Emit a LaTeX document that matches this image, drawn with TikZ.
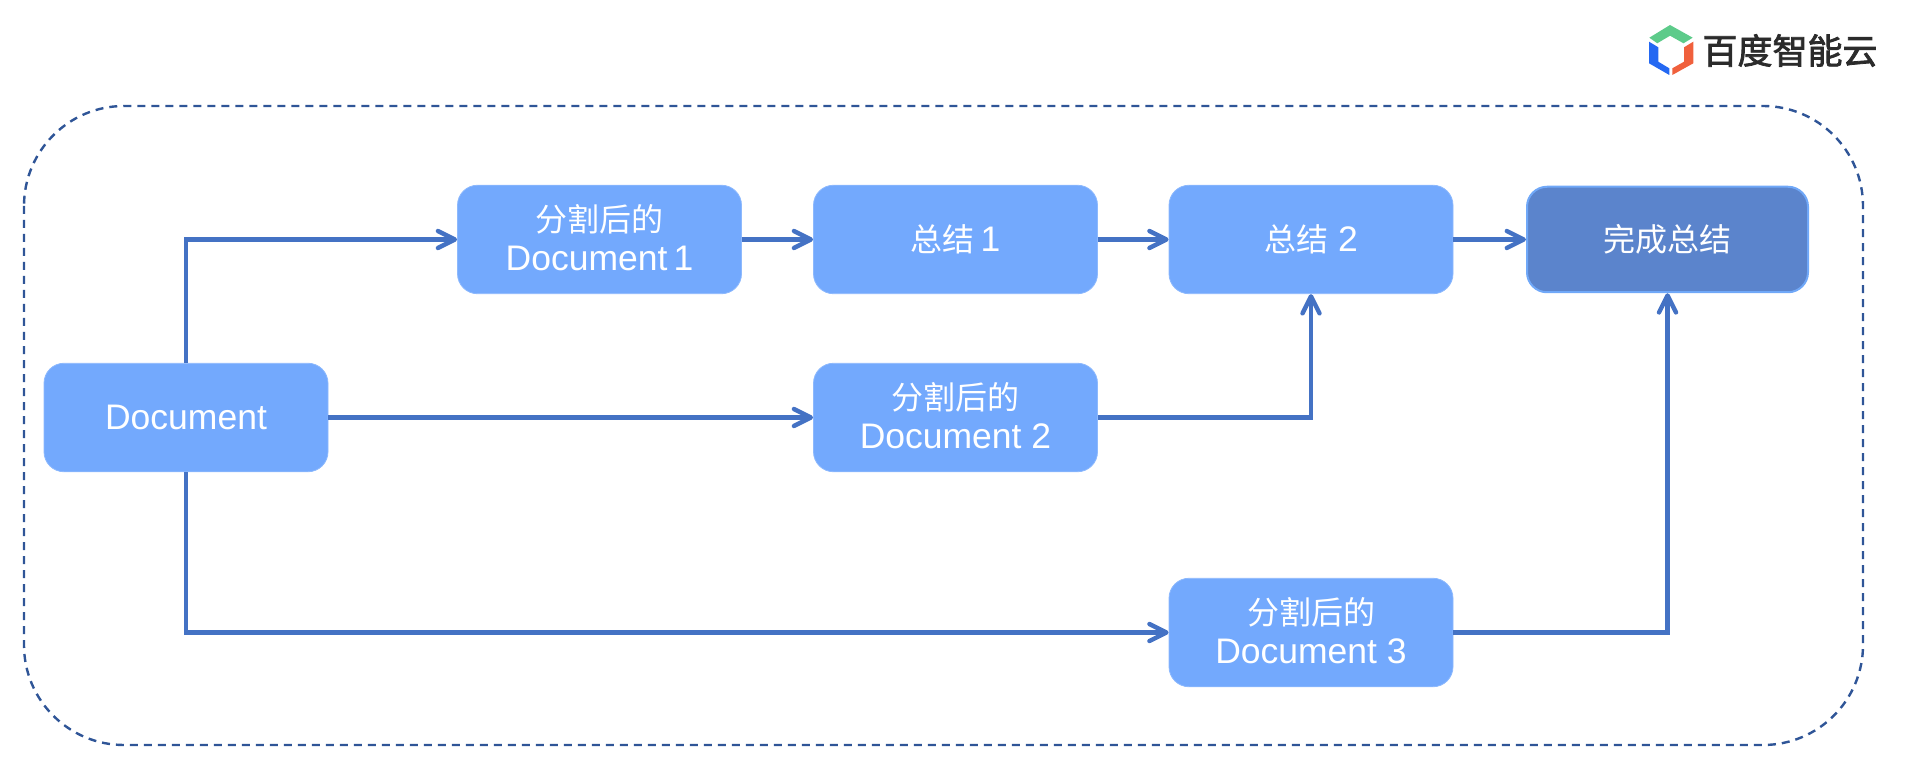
\documentclass[tikz,border=0pt]{standalone}
\usepackage{fontspec}
\usetikzlibrary{arrows.meta}
\setmainfont{Liberation Sans}
\newfontfamily\cjk{Noto Sans CJK SC}
\newfontfamily\brandfont[FakeBold=2.2]{Noto Sans CJK SC}
\definecolor{boxfill}{HTML}{73A9FD}
\definecolor{boxedge}{HTML}{8DB9FD}
\definecolor{donefill}{HTML}{5B84CC}
\definecolor{doneedge}{HTML}{70A8F8}
\definecolor{flow}{HTML}{4472C4}
\definecolor{frameline}{HTML}{2F5597}
\definecolor{logogreen}{HTML}{5DCB8A}
\definecolor{logoblue}{HTML}{2468F2}
\definecolor{logored}{HTML}{F0603C}
\definecolor{logotext}{HTML}{2B2B2B}
\tikzset{
  stepbox/.style={draw=boxedge, line width=0.8pt, fill=boxfill, rounded corners=20pt,
    minimum width=284pt, minimum height=108.5pt, inner sep=0pt, text=white, align=center,
    font=\fontsize{35.5}{39}\selectfont},
  twoline/.style={text depth=4pt},
  donebox/.style={stepbox, draw=doneedge, line width=2pt, fill=donefill,
    minimum width=281pt, minimum height=105.5pt},
  flowline/.style={draw=flow, line width=4.4pt,
    -{Straight Barb[length=17pt, width=17pt, line width=4.4pt, line cap=round, round]}},
  frame/.style={draw=frameline, line width=2.4pt, dash pattern=on 8pt off 6pt, rounded corners=100pt},
}
\newcommand{\zh}[1]{{\cjk\fontsize{32}{39}\selectfont #1}}
\begin{document}
\begin{tikzpicture}[x=1pt, y=-1pt]
\path[use as bounding box] (0,0) rectangle (1909,767);

% dashed outer frame
\draw[frame] (24,106) rectangle (1863,745);

% process steps
\node[stepbox] (doc)   at (186,417.5)  {Document};
\node[stepbox, twoline] (part1) at (599.5,239.5) {\zh{分割后的}\\{\spaceskip=6pt Document 1}};
\node[stepbox] (sum1)  at (955.5,239.5) {\zh{总结}{\spaceskip=6pt{} 1}};
\node[stepbox] (sum2)  at (1311,239.5)  {\zh{总结} 2};
\node[donebox] (done)  at (1667.5,239.5) {\zh{完成总结}};
\node[stepbox, twoline] (part2) at (955.5,417.5) {\zh{分割后的}\\Document 2};
\node[stepbox, twoline] (part3) at (1311,632.5)  {\zh{分割后的}\\Document 3};

% connectors
\draw[flowline] (doc.north) |- (part1.west);
\draw[flowline] (doc.east) -- (part2.west);
\draw[flowline] (doc.south) |- (part3.west);
\draw[flowline] (part1.east) -- (sum1.west);
\draw[flowline] (sum1.east) -- (sum2.west);
\draw[flowline] (sum2.east) -- (done.west);
\draw[flowline] (part2.east) -| (sum2.south);
\draw[flowline] (part3.east) -| (done.south);

% brand mark
\fill[logogreen] (1670,25) -- (1692.7,37.7) -- (1683.5,43.3) -- (1670,35.7) -- (1657.3,43.3) -- (1649.3,37.7) -- cycle;
\fill[logoblue] (1649,41.7) -- (1658.3,47.3) -- (1658.3,61.7) -- (1669.3,68.3) -- (1669.3,75) -- (1649,63.3) -- cycle;
\fill[logored] (1693.3,41.7) -- (1693.3,63.3) -- (1672.3,75) -- (1672.3,68.3) -- (1684,61.7) -- (1684,47.3) -- cycle;
\node[inner sep=0pt, text=logotext, font=\brandfont\fontsize{35}{35}\selectfont] (brand) at (1790,50.5) {百度智能云};
\end{tikzpicture}
\end{document}
